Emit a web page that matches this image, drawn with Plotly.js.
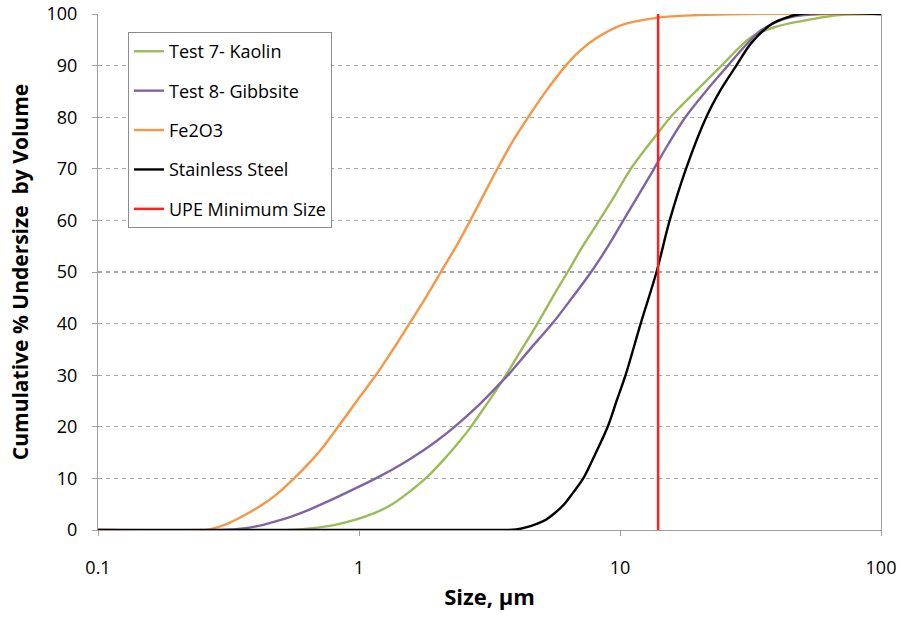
<!DOCTYPE html>
<html>
<head>
<meta charset="utf-8">
<script src="https://cdn.plot.ly/plotly-3.0.1.min.js"></script>
<style>html,body{margin:0;padding:0;background:#fff;}#chart{width:903px;height:620px;}</style>
</head>
<body>
<div id="chart"></div>
<script>
// Kaolin (Test 7)
const kaolinX = [0.1, 0.55, 0.65, 0.81, 0.97, 1.15, 1.34, 1.55, 1.8, 2.1, 2.42, 2.64, 2.89, 3.5, 4.2, 4.83, 5.5, 6.3, 7.2, 8.33, 9.6, 11, 14, 15.6, 19.5, 24.5, 32, 40, 52, 69, 100];
const kaolinY = [0, 0, 0.3, 1, 2, 3.3, 5, 7.3, 10, 13.5, 17.1, 19.5, 22.3, 28.5, 35, 40, 45, 50, 55, 60, 65, 70, 77, 80, 85, 90, 95.6, 97.6, 98.8, 99.8, 100];
// Gibbsite (Test 8)
const gibbX = [0.1, 0.3, 0.36, 0.43, 0.49, 0.55, 0.615, 0.734, 0.9, 1.16, 1.45, 1.75, 2.0, 2.31, 2.89, 3.5, 3.75, 4.55, 5.5, 6.55, 7.75, 9.0, 10.3, 11.8, 13.5, 15.4, 17.8, 21.3, 25.9, 30, 34.2, 40, 46, 60, 100];
const gibbY = [0, 0, 0.3, 1.0, 1.8, 2.6, 3.5, 5.2, 7.3, 10, 12.7, 15.3, 17.4, 19.9, 24.3, 28.6, 30.2, 35.2, 40, 45, 50, 55, 60, 65, 70, 75, 80, 85, 90, 93.7, 96.6, 98.5, 99.5, 100, 100];
// Fe2O3
const feX = [0.1, 0.25, 0.262, 0.3125, 0.362, 0.42, 0.486, 0.564, 0.653, 0.734, 0.84, 1.0, 1.16, 1.35, 1.56, 1.8, 2.06, 2.42, 2.8, 3.39, 3.9, 4.45, 5.2, 6.2, 7.0, 8.1, 10.2, 14, 20, 30, 100];
const feY = [0, 0, 0.05, 1.2, 2.8, 4.7, 7.0, 10, 13.3, 16.3, 20.3, 25.6, 30, 35, 40, 45, 50, 56, 62, 70, 75.5, 80, 85, 90, 92.8, 95.3, 97.9, 99.3, 99.8, 100, 100];
// Stainless Steel
const ssX = [0.1, 3.5, 4.0, 4.36, 4.8, 5.2, 5.6, 6.11, 6.6, 7.23, 8.0, 8.97, 9.7, 10.5, 12.0, 13.8, 15.5, 17.9, 21.4, 24.3, 27.9, 32, 38.5, 44, 49, 100];
const ssY = [0, 0, 0.1, 0.5, 1.2, 2, 3.2, 5, 7.2, 10, 14.5, 20, 25, 30, 40, 50, 60, 70, 80, 85.3, 90, 94.5, 98.2, 99.4, 100, 100];
// UPE minimum size
const upeX = [14, 14];
const upeY = [0, 100];

const seriesNames = ["Test 7- Kaolin", "Test 8- Gibbsite", "Fe2O3", "Stainless Steel", "UPE Minimum Size"];
const xTickVals = [0.1, 1, 10, 100];
const xTickText = ["0.1", "1", "10", "100"];

const FONT = "'Open Sans', Lato, sans-serif";

function tr(x, y, name, color, width, group) {
  return {x: x, y: y, name: name, type: "scatter", mode: "lines",
    line: {color: color, width: width, shape: "spline", smoothing: 1},
    legendgroup: group, hoverinfo: "skip"};
}

const data = [
  tr(kaolinX, kaolinY, seriesNames[0], "#9bbb59", 2.4, "a"),
  tr(gibbX, gibbY, seriesNames[1], "#8064a2", 2.4, "b"),
  tr(feX, feY, seriesNames[2], "#f79646", 2.4, "c"),
  tr(ssX, ssY, seriesNames[3], "#000000", 2.4, "d"),
  {x: upeX, y: upeY, name: seriesNames[4], type: "scatter", mode: "lines",
   line: {color: "#ff2020", width: 2.5}, legendgroup: "e", hoverinfo: "skip"}
];

const layout = {
  width: 903, height: 620,
  margin: {l: 98, r: 22, t: 14, b: 90},
  paper_bgcolor: "#ffffff", plot_bgcolor: "#ffffff",
  font: {family: FONT, size: 18, color: "#000"},
  showlegend: true,
  legend: {
    x: 0.0383, y: 0.965, xanchor: "left", yanchor: "top",
    bgcolor: "#ffffff", bordercolor: "#8c8c8c", borderwidth: 1,
    font: {family: FONT, size: 18, color: "#000"},
    itemwidth: 30, tracegroupgap: 13, traceorder: "grouped"
  },
  xaxis: {
    type: "log", range: [-1, 2],
    tickvals: xTickVals, ticktext: xTickText,
    ticks: "outside", ticklen: 5, tickcolor: "#a0a0a0",
    showline: true, linecolor: "#a0a0a0", linewidth: 1,
    showgrid: false, zeroline: false,
    ticklabelstandoff: 16,
    tickfont: {family: FONT, size: 18, color: "#000"},
    title: {text: "Size, µm", font: {family: FONT, size: 22, color: "#000", weight: "bold"}, standoff: 12}
  },
  yaxis: {
    range: [0, 100], dtick: 10, tick0: 0,
    ticks: "outside", ticklen: 5, tickcolor: "#a0a0a0",
    showline: true, linecolor: "#a0a0a0", linewidth: 1, mirror: true,
    showgrid: true, gridcolor: "#a6a6a6", gridwidth: 1.2, griddash: "4px,4px",
    zeroline: false,
    ticklabelstandoff: 11,
    tickfont: {family: FONT, size: 18, color: "#000"},
    title: {text: "Cumulative % Undersize  by Volume", font: {family: FONT, size: 21, color: "#000", weight: "bold"}, standoff: 12}
  }
};

Plotly.newPlot("chart", data, layout, {staticPlot: true, displayModeBar: false});
</script>
</body>
</html>
